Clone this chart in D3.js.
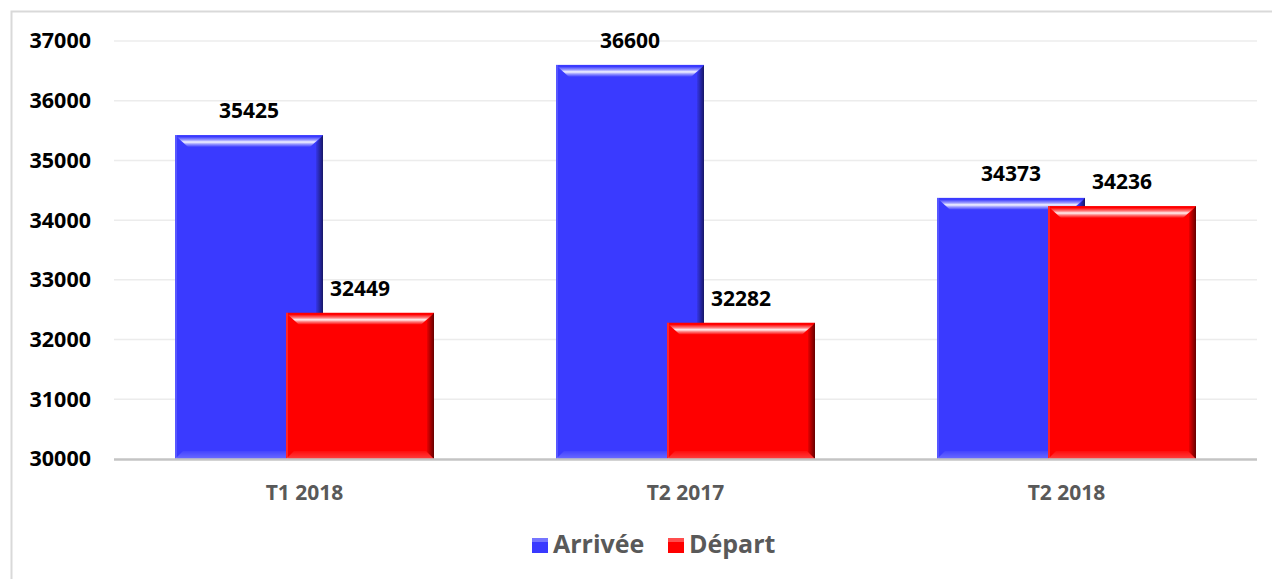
<!DOCTYPE html>
<html>
<head>
<meta charset="utf-8">
<script src="https://cdnjs.cloudflare.com/ajax/libs/d3/7.8.5/d3.min.js"></script>
<style>
  html, body { margin: 0; padding: 0; background: #fff; }
  svg { display: block; font-family: "Open Sans", sans-serif; }
</style>
</head>
<body>
<div class="root"></div>
<script>
const categories = ["T1 2018", "T2 2017", "T2 2018"];
const series = ["Arrivée", "Départ"];
const arrivee = [35425, 36600, 34373];
const depart = [32449, 32282, 34236];
const yTicks = [30000, 31000, 32000, 33000, 34000, 35000, 36000, 37000];
const colors = ["#3a3aff", "#ff0000"];

const w = 1272;
const h = 579;
const plotLeft = 114, plotRight = 1257, plotTop = 41, plotBottom = 459;
const barW = 148;

const svg = d3.select(".root")
              .append("svg")
              .attr("width", w)
              .attr("height", h);

// chart frame (only left and top edges visible)
svg.append("path")
   .attr("d", "M11.5," + h + "V11.5H" + w)
   .attr("fill", "none")
   .attr("stroke", "#d9d9d9")
   .attr("stroke-width", 2);

const xScale = d3.scaleBand()
                 .domain(categories)
                 .range([plotLeft, plotRight]);

const offset = d3.scalePoint()
                 .domain(series)
                 .range([-55.5, 55.5]);

const yScale = d3.scaleLinear()
                 .domain([30000, 37000])
                 .range([plotBottom, plotTop]);

// gridlines
svg.append("g")
   .selectAll("line")
   .data(yTicks.slice(1))
   .enter()
   .append("line")
   .attr("x1", plotLeft)
   .attr("x2", plotRight)
   .attr("y1", (d) => yScale(d))
   .attr("y2", (d) => yScale(d))
   .attr("stroke", "#ececec")
   .attr("stroke-width", 1.5);

// y axis labels
const yAxis = d3.axisLeft(yScale).tickValues(yTicks).tickSize(0).tickPadding(0).tickFormat(d3.format("d"));
const yg = svg.append("g")
   .attr("transform", "translate(91,0)")
   .call(yAxis);
yg.select(".domain").remove();
yg.selectAll("text")
  .attr("fill", "#000")
  .style("font-family", "'Open Sans', sans-serif")
  .style("font-weight", "bold")
  .style("font-size", "21.5px");

// gradients for the bevel look
const defs = svg.append("defs");
function grad(id, x2, y2, stops) {
  const g = defs.append("linearGradient").attr("id", id)
    .attr("x1", 0).attr("y1", 0).attr("x2", x2).attr("y2", y2);
  stops.forEach((s) => g.append("stop").attr("offset", s[0]).attr("stop-color", s[1]).attr("stop-opacity", s[2]));
}
grad("topShine", 0, 1, [[0, "#fff", 0.05], [0.3, "#fff", 0.5], [0.5, "#fff", 0.95], [0.7, "#fff", 0.5], [1, "#fff", 0]]);
grad("rightShade", 1, 0, [[0, "#000", 0.08], [1, "#000", 0.6]]);
grad("bottomShade", 0, 1, [[0, "#fff", 0.05], [1, "#fff", 0.25]]);

const rows = series.map((s, i) => ({
  name: s,
  color: colors[i],
  values: (i === 0 ? arrivee : depart).map((v, j) => ({ cat: categories[j], value: v }))
}));

rows.forEach((row) => {
  const g = svg.append("g");
  const bars = g.selectAll("g")
     .data(row.values)
     .enter()
     .append("g")
     .attr("transform", (d) => "translate(" + (xScale(d.cat) + xScale.bandwidth() / 2 + offset(row.name) - barW / 2) + "," + yScale(d.value) + ")");

  bars.append("rect")
      .attr("width", barW)
      .attr("height", (d) => plotBottom - yScale(d.value))
      .attr("fill", row.color);

  // top bevel with highlight
  bars.append("path")
      .attr("d", "M2,2H" + (barW - 2) + "L" + (barW - 13) + ",12H13Z")
      .attr("fill", "url(#topShine)");

  // right bevel shade
  bars.append("path")
      .attr("d", (d) => {
        const bh = plotBottom - yScale(d.value);
        return "M" + (barW - 7) + ",8L" + barW + ",0V" + bh + "L" + (barW - 7) + "," + (bh - 7) + "Z";
      })
      .attr("fill", "url(#rightShade)");

  // bottom bevel
  bars.append("path")
      .attr("d", (d) => {
        const bh = plotBottom - yScale(d.value);
        return "M0," + bh + "L8," + (bh - 8) + "H" + (barW - 8) + "L" + barW + "," + bh + "Z";
      })
      .attr("fill", "url(#bottomShade)");

  // left thin edge
  bars.append("rect")
      .attr("width", 2)
      .attr("height", (d) => plotBottom - yScale(d.value))
      .attr("fill", "#fff")
      .attr("opacity", 0.15);

  // value labels
  g.selectAll("text")
   .data(row.values)
   .enter()
   .append("text")
   .attr("x", (d) => xScale(d.cat) + xScale.bandwidth() / 2 + offset(row.name))
   .attr("y", (d) => yScale(d.value) - 17)
   .attr("text-anchor", "middle")
   .style("font-weight", "bold")
   .style("font-size", "21px")
   .attr("fill", "#000")
   .text((d) => d.value);
});

// x axis line
svg.append("line")
   .attr("x1", plotLeft)
   .attr("x2", plotRight)
   .attr("y1", plotBottom + 0.5)
   .attr("y2", plotBottom + 0.5)
   .attr("stroke", "#c4c4c4")
   .attr("stroke-width", 2.5);

// category labels
svg.append("g")
   .selectAll("text")
   .data(categories)
   .enter()
   .append("text")
   .attr("x", (d) => xScale(d) + xScale.bandwidth() / 2)
   .attr("y", 500)
   .attr("text-anchor", "middle")
   .style("font-weight", "bold")
   .style("font-size", "21px")
   .attr("fill", "#595959")
   .text((d) => d);

// legend
const legend = svg.append("g");
const legendX = [532, 668];
series.forEach((s, i) => {
  legend.append("rect")
        .attr("x", legendX[i])
        .attr("y", 538)
        .attr("width", 16)
        .attr("height", 15)
        .attr("fill", colors[i]);
  legend.append("rect")
        .attr("x", legendX[i])
        .attr("y", 538)
        .attr("width", 16)
        .attr("height", 4)
        .attr("fill", "#fff")
        .attr("opacity", 0.3);
  legend.append("text")
        .attr("x", legendX[i] + 21)
        .attr("y", 553)
        .style("font-weight", "bold")
        .style("font-size", "25px")
        .attr("fill", "#595959")
        .text(s);
});
</script>
</body>
</html>
